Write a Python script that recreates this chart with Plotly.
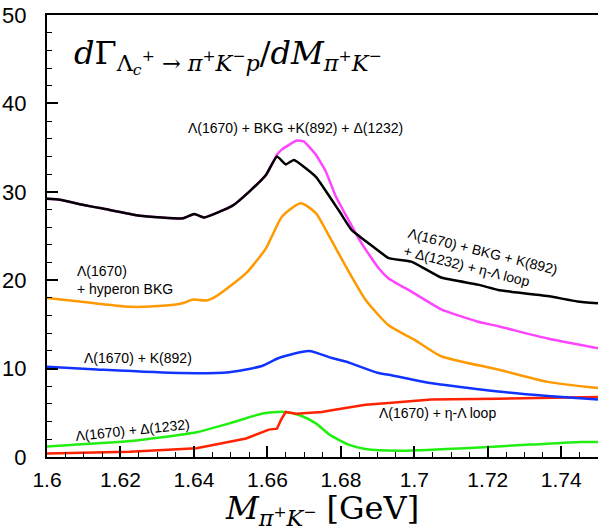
import plotly.graph_objects as go

# ---- data ----
black_x = [1.6000, 1.6035, 1.6100, 1.6152, 1.6252, 1.6369, 1.6401, 1.6428, 1.6504, 1.6550, 1.6596,
           1.6626, 1.6650, 1.6672, 1.6732, 1.6775, 1.6799, 1.6829, 1.6894, 1.6930, 1.6992, 1.7073,
           1.7173, 1.7228, 1.7263, 1.7363, 1.7444, 1.7500]
black_y = [29.2, 29.1, 28.5, 28.1, 27.3, 27.0, 27.5, 27.1, 28.4, 30.0, 31.9,
           34.0, 33.1, 33.6, 31.7, 29.1, 27.6, 25.7, 23.6, 22.5, 22.1, 20.3,
           19.5, 18.9, 18.7, 18.2, 17.6, 17.4]

magenta_x = [1.6000, 1.6035, 1.6100, 1.6152, 1.6252, 1.6369, 1.6401, 1.6428, 1.6504, 1.6550, 1.6596,
             1.6626, 1.6640, 1.6680, 1.6699, 1.6732, 1.6759, 1.6786, 1.6821, 1.6856, 1.6902, 1.6930,
             1.6992, 1.7073, 1.7173, 1.7228, 1.7363, 1.7500]
magenta_y = [29.2, 29.1, 28.5, 28.1, 27.3, 27.0, 27.5, 27.1, 28.4, 30.0, 31.9,
             34.2, 34.8, 35.8, 35.7, 34.2, 32.3, 29.5, 26.8, 24.2, 21.4, 20.2,
             18.7, 16.7, 15.3, 14.8, 13.4, 12.3]

orange_x = [1.6000, 1.6089, 1.6225, 1.6314, 1.6369, 1.6396, 1.6434, 1.6461, 1.6542, 1.6596,
            1.6640, 1.6691, 1.6732, 1.6764, 1.6821, 1.6867, 1.6930, 1.7003, 1.7073, 1.7228, 1.7363, 1.7500]
orange_y = [18.0, 17.6, 17.0, 17.1, 17.4, 17.8, 17.7, 18.2, 20.8, 23.6,
            27.2, 28.7, 27.6, 25.3, 21.0, 17.8, 14.9, 13.2, 11.4, 9.9, 8.5, 7.8]

blue_x = [1.6000, 1.6136, 1.6360, 1.6496, 1.6585, 1.6631, 1.6713, 1.6775, 1.6813, 1.6902, 1.6930,
          1.7038, 1.7073, 1.7228, 1.7363, 1.7500]
blue_y = [10.2, 9.9, 9.5, 9.6, 10.3, 11.2, 12.0, 11.2, 10.8, 9.5, 9.3,
          8.4, 8.2, 7.4, 6.9, 6.5]

red_x = [1.6000, 1.6225, 1.6407, 1.6542, 1.6604, 1.6626, 1.6637, 1.6650, 1.6678, 1.6748, 1.6775,
         1.6867, 1.6930, 1.7046, 1.7228, 1.7453, 1.7500]
red_y = [0.4, 0.6, 1.0, 2.1, 3.1, 3.2, 4.2, 5.1, 4.9, 5.1, 5.3,
         5.9, 6.1, 6.5, 6.6, 6.8, 6.8]

green_x = [1.6000, 1.6225, 1.6407, 1.6496, 1.6585, 1.6645, 1.6690, 1.6732, 1.6770, 1.6821, 1.6867,
           1.6957, 1.7138, 1.7317, 1.7453, 1.7500]
green_y = [1.2, 1.8, 2.8, 3.8, 4.9, 5.1, 4.7, 3.8, 2.5, 1.4, 0.9,
           0.7, 1.0, 1.4, 1.7, 1.7]

x_ticks = [1.6, 1.62, 1.64, 1.66, 1.68, 1.7, 1.72, 1.74]
x_tick_labels = ["1.6", "1.62", "1.64", "1.66", "1.68", "1.7", "1.72", "1.74"]
y_ticks = [0, 10, 20, 30, 40, 50]
y_tick_labels = ["0", "10", "20", "30", "40", "50"]

# ---- figure ----
fig = go.Figure()

def add(x, y, color, shape="spline", smooth=0.6):
    line = dict(color=color, width=2.5, shape=shape)
    if shape == "spline":
        line["smoothing"] = smooth
    fig.add_trace(go.Scatter(x=x, y=y, mode="lines", line=line,
                             showlegend=False, hoverinfo="skip"))

add(green_x, green_y, "#22ee11")
add(red_x, red_y, "#ff2200", "linear")
add(blue_x, blue_y, "#1133ff")
add(orange_x, orange_y, "#ff9900")
add(magenta_x, magenta_y, "#ff44ff", "spline", 0.4)
add(black_x, black_y, "#000000", "spline", 0.4)

sans = "Liberation Sans, Arial, sans-serif"
serif = "DejaVu Serif, serif"

title_text = ("<i>d</i>Γ<sub>Λ<sub><i>c</i></sub><sup>+</sup> → <i>π</i><sup>+</sup><i>K</i><sup>−</sup><i>p</i></sub>"
              "/<i>dM</i><sub><i>π</i><sup>+</sup><i>K</i><sup>−</sup></sub>")
xtitle_text = "<i>M</i><sub><i>π</i><sup>+</sup><i>K</i><sup>−</sup></sub> [GeV]"

ann = [
    dict(x=0.046, y=0.905, xref="paper", yref="paper", xanchor="left", yanchor="middle",
         text=title_text, font=dict(family=serif, size=32, color="black")),
    dict(x=1.6677, y=37.2, text="Λ(1670) + BKG +K(892) + Δ(1232)",
         font=dict(family=sans, size=14, color="black")),
    dict(x=1.7180, y=22.3, text="Λ(1670) + BKG + K(892)<br>+ Δ(1232) + η-Λ loop", align="left",
         textangle=14, font=dict(family=sans, size=14, color="black")),
    dict(x=1.6075, y=20.0, xanchor="left", align="left", text="Λ(1670)<br>+ hyperon BKG",
         font=dict(family=sans, size=14, color="black")),
    dict(x=1.6095, y=11.2, xanchor="left", text="Λ(1670) + K(892)",
         font=dict(family=sans, size=14, color="black")),
    dict(x=1.6233, y=3.1, text="Λ(1670) + Δ(1232)", textangle=-6,
         font=dict(family=sans, size=14, color="black")),
    dict(x=1.7063, y=5.0, text="Λ(1670) + η-Λ loop",
         font=dict(family=sans, size=14, color="black")),
]
for a in ann:
    a.setdefault("xref", "x")
    a.setdefault("yref", "y")
    a["showarrow"] = False
    fig.add_annotation(**a)

fig.update_layout(
    width=598, height=531,
    margin=dict(l=47, r=0, t=15, b=74),
    plot_bgcolor="white", paper_bgcolor="white",
    font=dict(family=sans, color="black"),
)
fig.update_xaxes(
    range=[1.6, 1.75], tickvals=x_ticks, ticktext=x_tick_labels,
    showgrid=False, zeroline=False, showline=True, linecolor="black", linewidth=2, mirror=True,
    ticks="inside", ticklen=11, tickwidth=1.5, tickcolor="black",
    minor=dict(dtick=0.005, tick0=1.6, ticks="inside", ticklen=5, tickwidth=1, tickcolor="black"),
    tickfont=dict(family=sans, size=21, color="black"), ticklabelstandoff=3,
    title=dict(text=xtitle_text, font=dict(family=serif, size=32, color="black"), standoff=0),
)
fig.update_yaxes(
    range=[0, 50], tickvals=y_ticks, ticktext=y_tick_labels,
    showgrid=False, zeroline=False, showline=True, linecolor="black", linewidth=2,
    ticks="inside", ticklen=11, tickwidth=1.5, tickcolor="black",
    minor=dict(dtick=2, tick0=0, ticks="inside", ticklen=5, tickwidth=1, tickcolor="black"),
    tickfont=dict(family=sans, size=22, color="black"), ticklabelstandoff=14,
)

fig.write_html("out.html")
